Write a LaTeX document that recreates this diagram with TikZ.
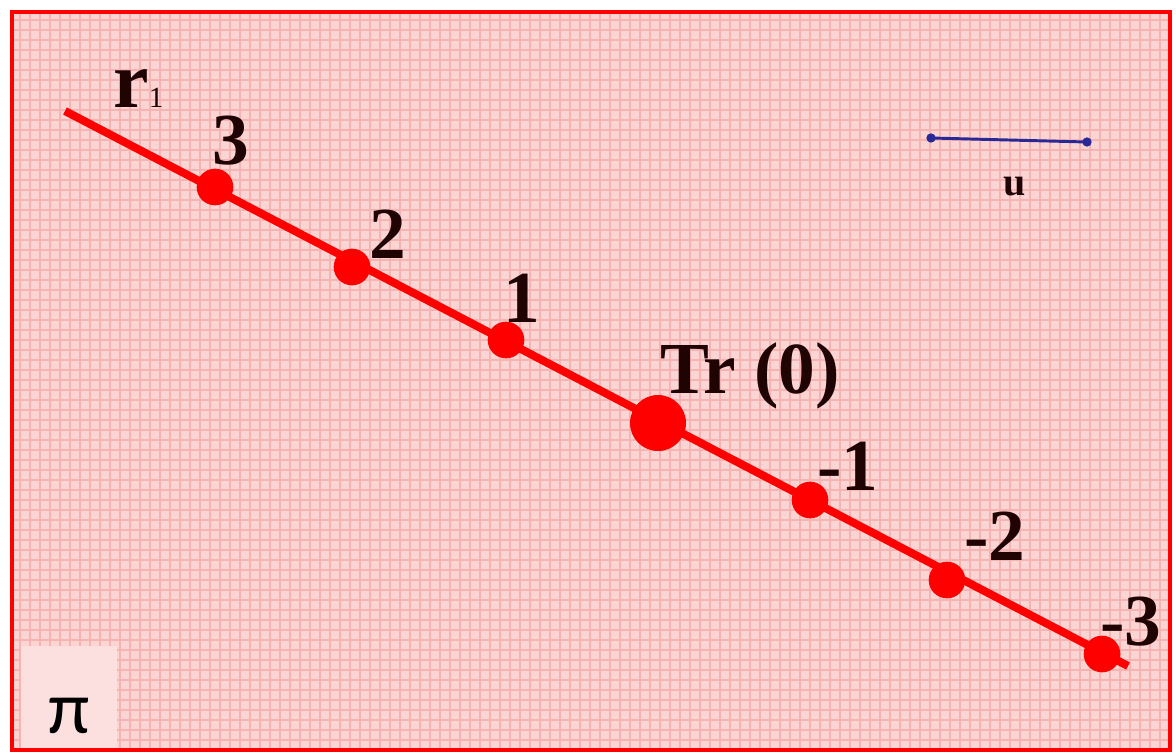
\documentclass[tikz,border=0pt]{standalone}
\usepackage{fontspec}
\setmainfont{Liberation Serif}
\newfontfamily\pifont{Carlito}
\definecolor{pinkbg}{RGB}{251,212,212}
\definecolor{gridc}{RGB}{247,178,178}
\definecolor{pibox}{RGB}{252,224,224}
\definecolor{txtc}{RGB}{32,4,4}
\definecolor{ublue}{RGB}{40,40,150}
\tikzset{
  bigtxt/.style={font=\fontsize{55}{60}\selectfont\bfseries, text=txtc, inner sep=0pt, anchor=base},
  dotsmall/.style={circle, fill=red, minimum size=27.5pt, inner sep=0pt},
  dotbig/.style={circle, fill=red, minimum size=42pt, inner sep=0pt},
  redline/.style={red, line width=6pt},
  udot/.style={circle, fill=ublue, minimum size=7pt, inner sep=0pt},
}
\begin{document}
\begin{tikzpicture}[x=0.75pt,y=-0.75pt]
\useasboundingbox (0,0) rectangle (1176,753);
\fill[white] (0,0) rectangle (1176,753);
\fill[pinkbg] (12,12) rectangle (1170,750);
\draw[gridc, line width=0.9pt, step=7.5pt] (12,12) grid (1170,750);
\fill[pibox] (21,646) rectangle (117,750);
\draw[red, line width=3pt] (12,12) rectangle (1170,750);
% main line
\coordinate (s) at (65,111);
\coordinate (e) at (1128,666);
\draw[redline] (s) -- (e);
\node[dotsmall] (p3) at (215,187) {};
\node[dotsmall] (p2) at (352,267) {};
\node[dotsmall] (p1) at (506,340) {};
\node[dotbig] (p0) at (658,423) {};
\node[dotsmall] (m1) at (810,500) {};
\node[dotsmall] (m2) at (947,580) {};
\node[dotsmall] (m3) at (1102,654) {};
% labels
\node[bigtxt] (l3) at (231,164) {3};
\node[bigtxt] (l2) at (388,258) {2};
\node[bigtxt] (l1) at (522,322) {1};
\node[bigtxt] (l0) at (750,393) {Tr (0)};
\node[bigtxt] (lm1) at (848,490) {-1};
\node[bigtxt] (lm2) at (995,560) {-2};
\node[bigtxt] (lm3) at (1131,645) {-3};
\node[font=\fontsize{60}{66}\selectfont\bfseries, text=txtc, inner sep=0pt, anchor=base west] (r) at (113,107) {r\fontsize{22}{24}\selectfont\mdseries 1};
% vector u
\node[udot] (ua) at (931,138) {};
\node[udot] (ub) at (1087,142) {};
\draw[ublue, line width=2.2pt] (ua.center) -- (ub.center);
\node[font=\fontsize{30}{34}\selectfont\bfseries, text=txtc, inner sep=0pt, anchor=base] (u) at (1015,195) {u};
% pi
\node[font=\fontsize{56}{58}\pifont, text=black, inner sep=0pt, anchor=center] (pi) at (69,716) {π};
\end{tikzpicture}
\end{document}
